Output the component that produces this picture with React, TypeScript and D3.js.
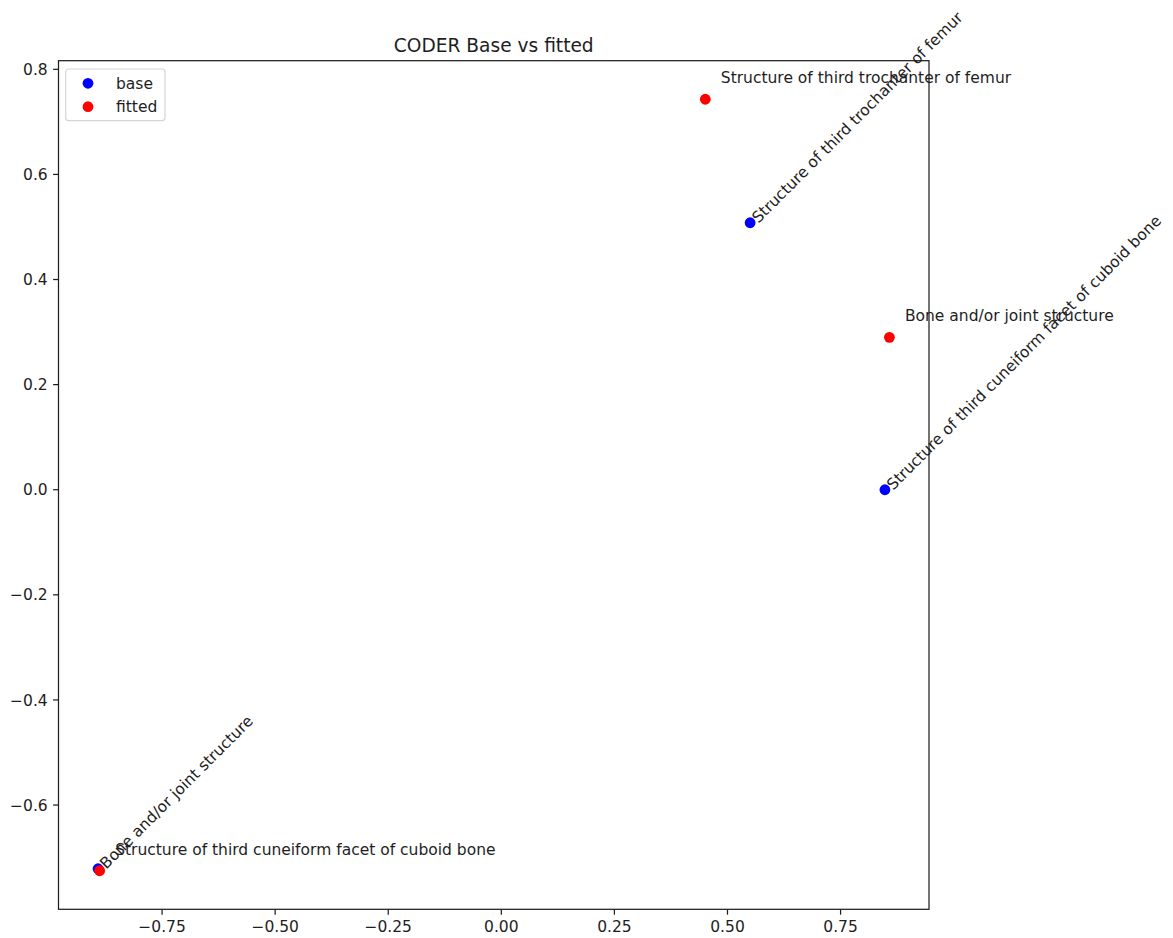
import React from "react";
import * as d3 from "d3";

const baseLabels = [
  "Structure of third trochanter of femur",
  "Structure of third cuneiform facet of cuboid bone",
  "Bone and/or joint structure",
];
const baseX = [0.55, 0.848, -0.8915];
const baseY = [0.508, 0.0, -0.7212];

const fittedLabels = [
  "Structure of third trochanter of femur",
  "Bone and/or joint structure",
  "Structure of third cuneiform facet of cuboid bone",
];
const fittedX = [0.451, 0.858, -0.888];
const fittedY = [0.743, 0.29, -0.725];

const xTicks = [-0.75, -0.5, -0.25, 0, 0.25, 0.5, 0.75];
const yTicks = [-0.6, -0.4, -0.2, 0, 0.2, 0.4, 0.6, 0.8];

const title = "CODER Base vs fitted";
const seriesNames = ["base", "fitted"];
const seriesColors = ["#0000ff", "#ff0000"];

const W = 1173;
const H = 938;
const L = 58.5;
const R = 929;
const T = 60.7;
const B = 909.3;
const FONT = "DejaVu Sans, Verdana, sans-serif";
const FS = 15.5;
const TICK = 5.4;
const PAD = 5.4;
const LW = 1.24;
const MR = 5.4;
const INK = "#1e1e1e";

function withMargin(vals: number[]): [number, number] {
  const [mn, mx] = d3.extent(vals) as [number, number];
  const r = mx - mn;
  return [mn - 0.05 * r, mx + 0.05 * r];
}

const fmt = (v: number, d: number) => {
  const s = Math.abs(v).toFixed(d);
  return (v < 0 ? "\u2212" : "") + s;
};

export default function App() {
  const x = d3.scaleLinear().domain(withMargin([...baseX, ...fittedX])).range([L, R]);
  const y = d3.scaleLinear().domain(withMargin([...baseY, ...fittedY])).range([B, T]);

  const base = baseX.map((v, i) => ({ x: v, y: baseY[i], label: baseLabels[i] }));
  const fitted = fittedX.map((v, i) => ({ x: v, y: fittedY[i], label: fittedLabels[i] }));

  return (
    <svg
      width={W}
      height={H}
      viewBox={`0 0 ${W} ${H}`}
      style={{ position: "absolute", left: 0, top: 0, background: "#fff" }}
      fontFamily={FONT}
    >
      <rect x={0} y={0} width={W} height={H} fill="#fff" />
      {/* title */}
      <text x={(L + R) / 2} y={51.7} textAnchor="middle" fontSize={18.6} fill={INK}>
        {title}
      </text>

      {/* points */}
      {base.map((d, i) => (
        <circle key={"b" + i} cx={x(d.x)} cy={y(d.y)} r={MR} fill={seriesColors[0]} />
      ))}
      {fitted.map((d, i) => (
        <circle key={"f" + i} cx={x(d.x)} cy={y(d.y)} r={MR} fill={seriesColors[1]} />
      ))}

      {/* rotated base labels */}
      {base.map((d, i) => {
        const ox = x(d.x) + 8.3;
        const oy = y(d.y) + 0.9;
        return (
          <text
            key={"bl" + i}
            x={ox}
            y={oy}
            fontSize={FS}
            fill={INK}
            transform={`rotate(-45 ${ox} ${oy})`}
          >
            {d.label}
          </text>
        );
      })}
      {/* horizontal fitted labels */}
      {fitted.map((d, i) => (
        <text key={"fl" + i} x={x(d.x) + 15.5} y={y(d.y) - 16} fontSize={FS} fill={INK}>
          {d.label}
        </text>
      ))}

      {/* spines */}
      <rect x={L} y={T} width={R - L} height={B - T} fill="none" stroke={INK} strokeWidth={LW} />

      {/* x ticks */}
      {xTicks.map((t) => (
        <g key={"xt" + t}>
          <line x1={x(t)} x2={x(t)} y1={B} y2={B + TICK} stroke={INK} strokeWidth={LW} />
          <text x={x(t)} y={B + TICK + PAD + 12.1} textAnchor="middle" fontSize={FS} fill={INK}>
            {fmt(t, 2)}
          </text>
        </g>
      ))}
      {/* y ticks */}
      {yTicks.map((t) => (
        <g key={"yt" + t}>
          <line x1={L - TICK} x2={L} y1={y(t)} y2={y(t)} stroke={INK} strokeWidth={LW} />
          <text x={L - TICK - PAD} y={y(t) + 5.6} textAnchor="end" fontSize={FS} fill={INK}>
            {fmt(t, 1)}
          </text>
        </g>
      ))}

      {/* legend */}
      <rect
        x={65.7}
        y={69}
        width={99.3}
        height={51.7}
        rx={3}
        ry={3}
        fill="#fff"
        fillOpacity={0.8}
        stroke="#d5d5d5"
        strokeWidth={1.2}
      />
      {seriesNames.map((n, i) => (
        <g key={"lg" + i}>
          <circle cx={88} cy={83.3 + i * 23.4} r={MR} fill={seriesColors[i]} />
          <text x={116} y={83.3 + i * 23.4 + 5.4} fontSize={FS} fill={INK}>
            {n}
          </text>
        </g>
      ))}
    </svg>
  );
}
